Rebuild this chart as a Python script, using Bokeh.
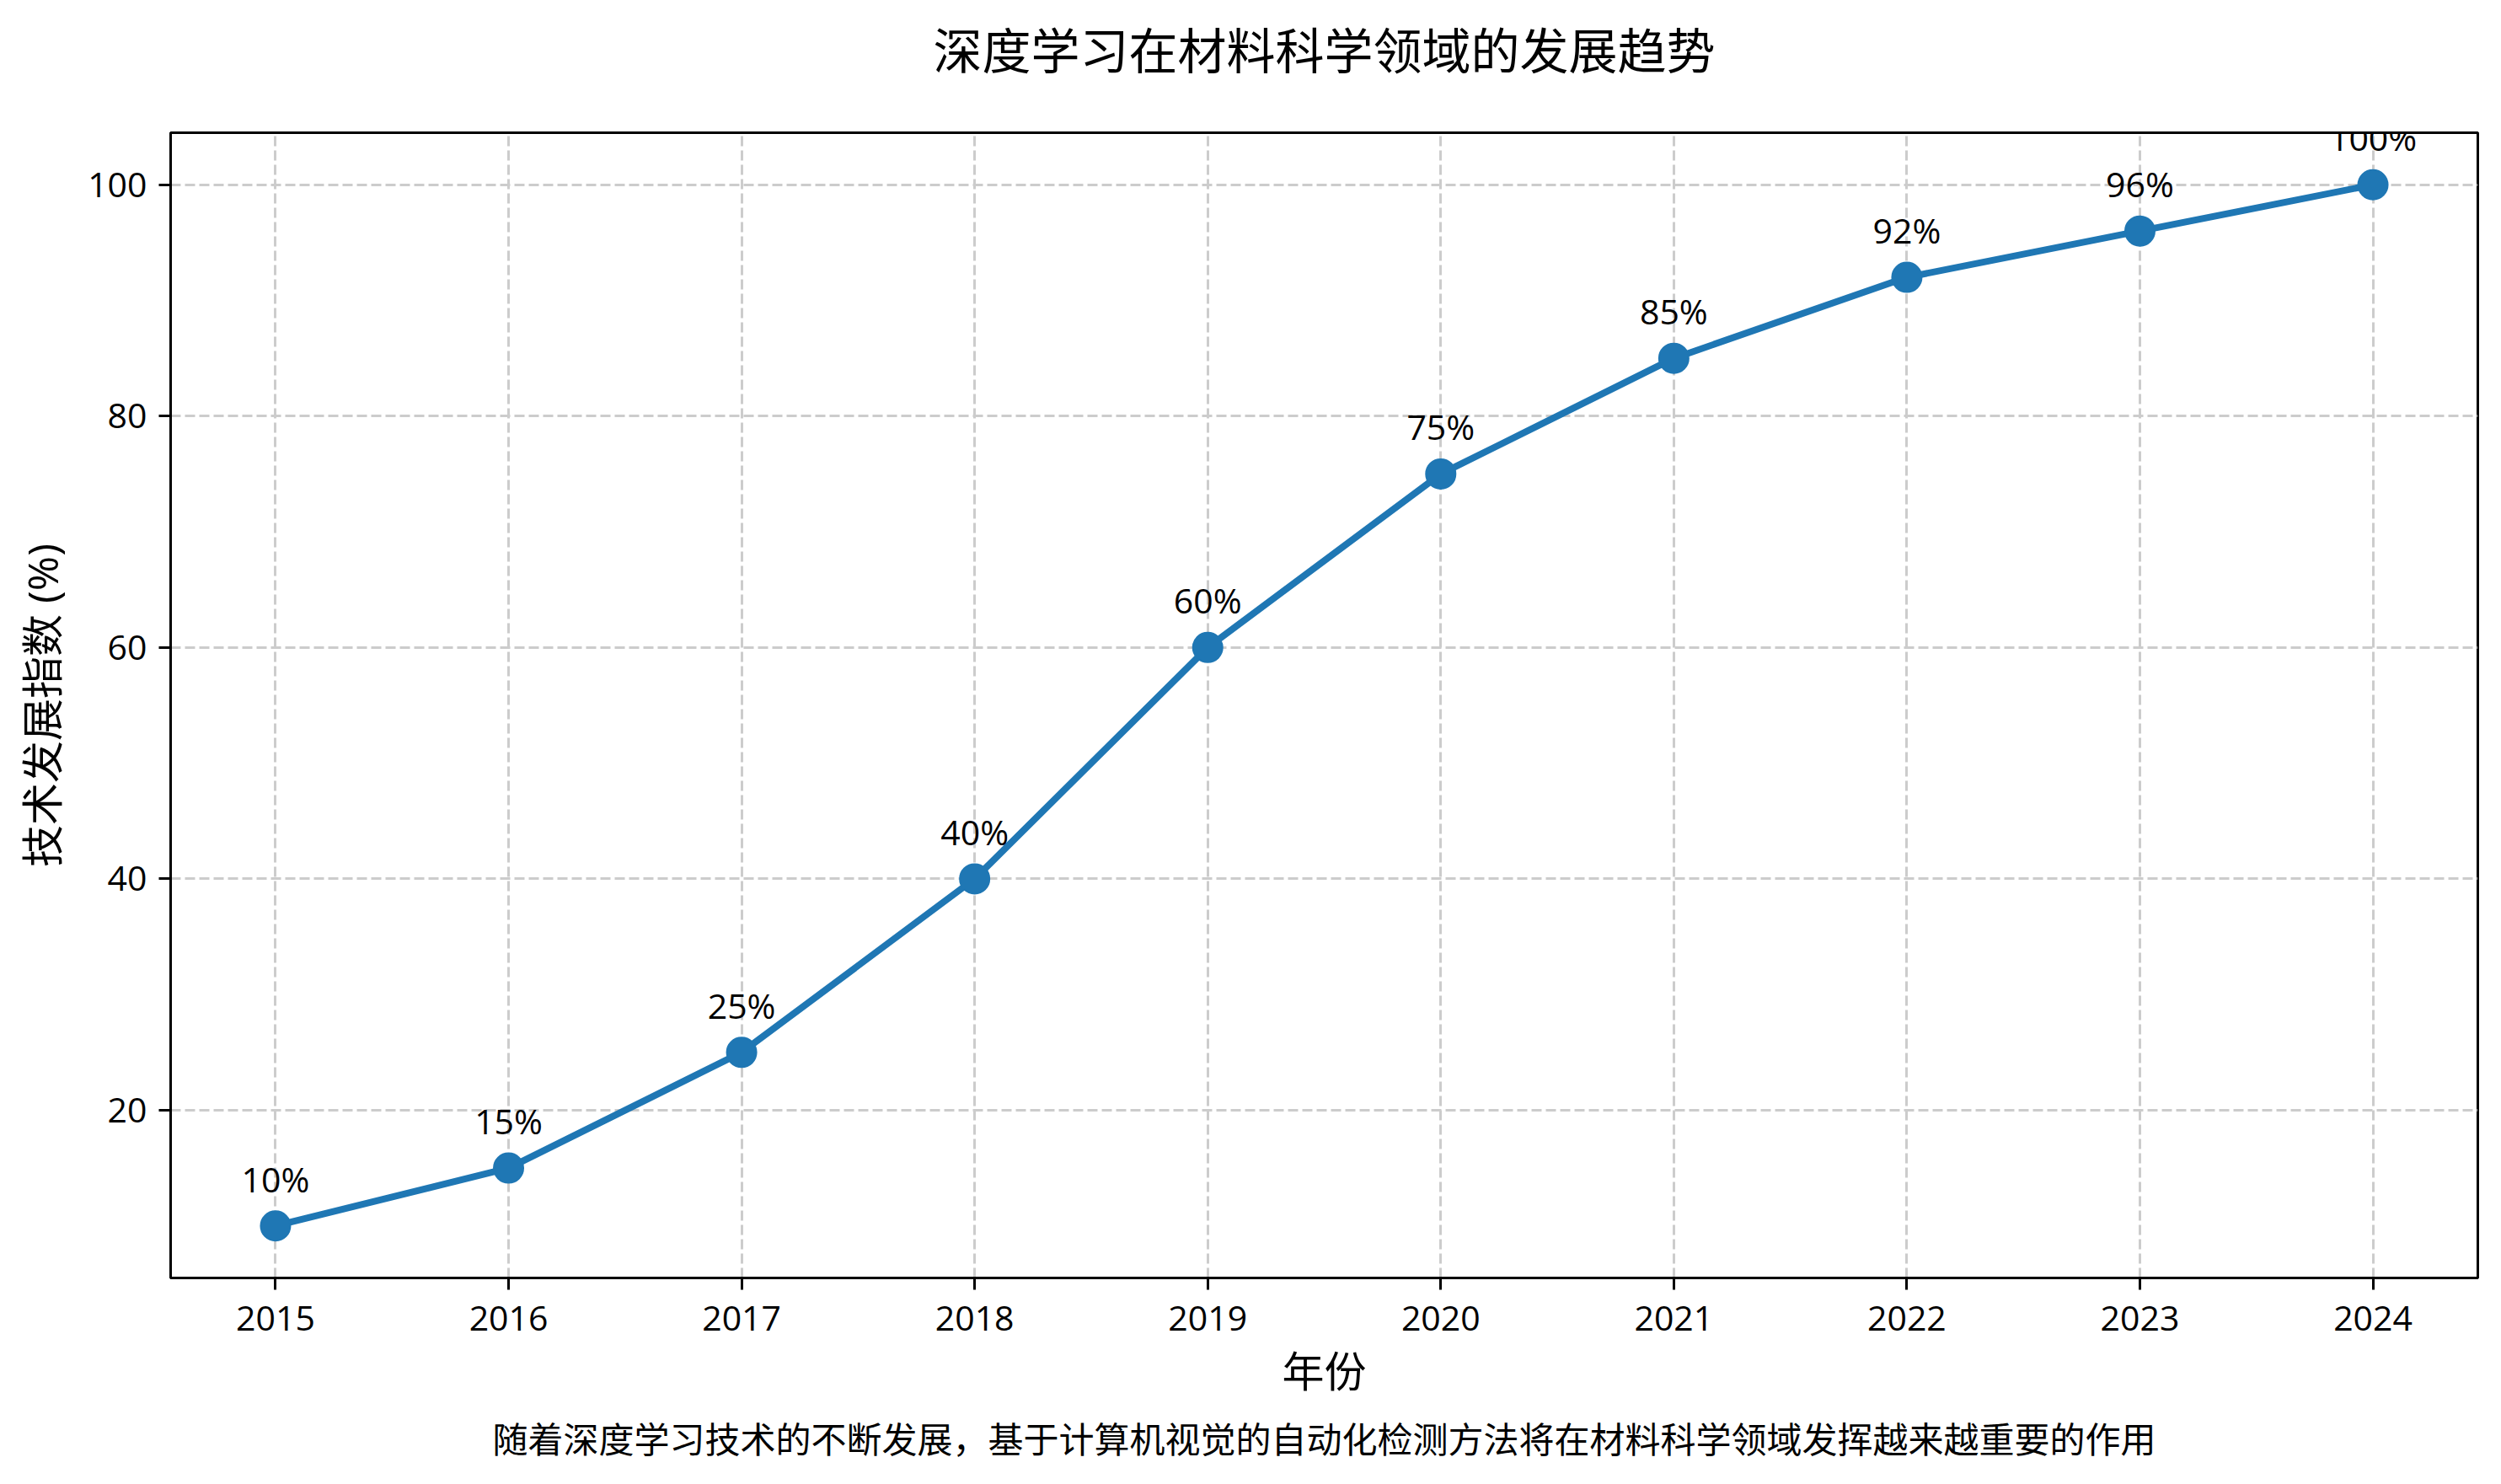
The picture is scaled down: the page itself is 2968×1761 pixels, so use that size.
from bokeh.plotting import figure
from bokeh.models import ColumnDataSource, Range1d, FixedTicker, Title, Label
from bokeh.core.properties import value
from bokeh.embed import file_html
from bokeh.resources import INLINE

years = [2015, 2016, 2017, 2018, 2019, 2020, 2021, 2022, 2023, 2024]
index_values = [10, 15, 25, 40, 60, 75, 85, 92, 96, 100]
point_labels = ["10%", "15%", "25%", "40%", "60%", "75%", "85%", "92%", "96%", "100%"]
y_ticks = [20, 40, 60, 80, 100]

title_text = "深度学习在材料科学领域的发展趋势"
x_label = "年份"
y_label = "技术发展指数 (%)"
footnote = "随着深度学习技术的不断发展，基于计算机视觉的自动化检测方法将在材料科学领域发挥越来越重要的作用"

LATIN = "Open Sans, Noto Sans CJK SC"
CJK = "Noto Sans CJK SC"
BLUE = "#1f77b4"

x0, x1 = 2015 - 0.45, 2024 + 0.45
y0, y1 = 5.5, 104.5

src = ColumnDataSource(dict(x=years, y=index_values, lab=point_labels))

p = figure(width=2952, height=1745, output_backend="svg", toolbar_location=None,
           x_range=Range1d(x0, x1), y_range=Range1d(y0, y1),
           min_border_left=202, min_border_right=12, min_border_top=157, min_border_bottom=229)

# title: a label placed in the panel above the frame, centred on the frame
title = Label(x=(x0 + x1) / 2, x_units="data", y=101, y_units="screen", text=title_text,
              text_align="center", text_baseline="middle",
              text_font=CJK, text_font_size="58px", text_color="black")
p.add_layout(title, "above")

p.outline_line_color = "black"
p.outline_line_width = 3
p.outline_line_alpha = 1

for ax in (p.xaxis[0], p.yaxis[0]):
    ax.axis_line_width = 3
    ax.axis_line_color = "black"
    ax.major_tick_line_width = 3
    ax.major_tick_out = 14
    ax.major_tick_in = 0
    ax.minor_tick_line_color = None
    ax.major_label_text_font = LATIN
    ax.major_label_text_font_size = "41px"
    ax.major_label_text_color = "black"
    ax.axis_label_text_font = LATIN
    ax.axis_label_text_font_size = "50px"
    ax.axis_label_text_font_style = "normal"
    ax.axis_label_text_color = "black"

p.xaxis[0].ticker = FixedTicker(ticks=years)
p.yaxis[0].ticker = FixedTicker(ticks=y_ticks)
p.xaxis[0].axis_label = x_label
p.yaxis[0].axis_label = y_label
p.xaxis[0].major_label_standoff = 19
p.yaxis[0].major_label_standoff = 14
p.xaxis[0].axis_label_standoff = 11
p.yaxis[0].axis_label_standoff = 17

for g in (p.xgrid[0], p.ygrid[0]):
    g.grid_line_color = "#cccccc"
    g.grid_line_width = 3
    g.grid_line_dash = "12 5"

p.line("x", "y", source=src, line_color=BLUE, line_width=8)
p.scatter("x", "y", source=src, size=35, fill_color=BLUE, line_color=BLUE, line_width=2)
p.text("x", "y", text="lab", source=src, text_align="center", text_baseline="alphabetic",
       y_offset=-56, text_font=value(LATIN), text_font_size="41px", text_color="black")

fn = Title(text=footnote, align="center", text_font=CJK, text_font_size="42px",
           text_font_style="normal", text_color="black", standoff=18)
p.add_layout(fn, "below")

open("out.html", "w").write(file_html(p, INLINE))
